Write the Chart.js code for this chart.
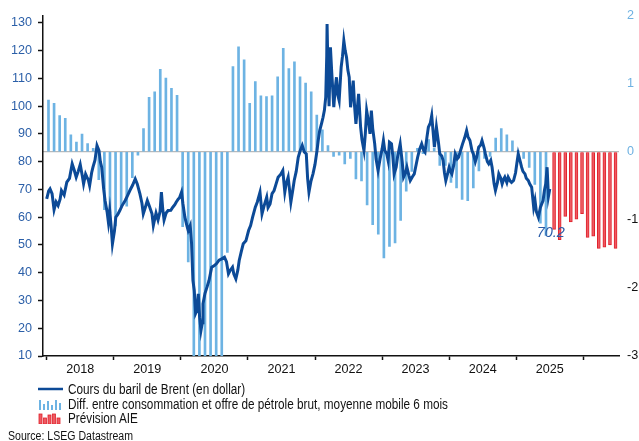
<!DOCTYPE html>
<html lang="fr">
<head>
<meta charset="utf-8">
<title>Brent et équilibre du marché pétrolier</title>
<script src="https://cdn.jsdelivr.net/npm/chart.js@4.4.1/dist/chart.umd.min.js"></script>
<style>
  html, body { margin: 0; padding: 0; background: #fff; }
  body { width: 639px; height: 441px; overflow: hidden; font-family: "Liberation Sans", Arial, sans-serif; color: #111; }
  .wrap { position: relative; width: 639px; height: 441px; }
  #chart { position: absolute; left: 0; top: 0; }
  .row { position: absolute; left: 38px; height: 16px; line-height: 16px; display: flex; align-items: center; white-space: nowrap; }
  .row svg { width: 25px; height: 12px; margin-right: 5px; flex: none; }
  .row span { font-size: 14px; display: inline-block; transform: scaleX(0.84); transform-origin: left center; }
  .source { position: absolute; left: 8px; top: 428px; font-size: 12.5px; line-height: 16px; transform: scaleX(0.845); transform-origin: left center; white-space: nowrap; }
</style>
</head>
<body>
<div class="wrap">
  <canvas id="chart" width="639" height="441"></canvas>
  <div class="row" style="top:381px">
    <svg viewBox="0 0 25 12"><line x1="0" y1="6" x2="25" y2="6" stroke="#0c4a97" stroke-width="2.5"/></svg>
    <span>Cours du baril de Brent (en dollar)</span>
  </div>
  <div class="row" style="top:396px">
    <svg viewBox="0 0 25 12">
      <rect x="1" y="2" width="2" height="10" fill="#6db3e3"/><rect x="5" y="6" width="2" height="6" fill="#6db3e3"/>
      <rect x="9" y="3" width="2" height="9" fill="#6db3e3"/><rect x="13" y="7" width="2" height="5" fill="#6db3e3"/>
      <rect x="17" y="2" width="2" height="10" fill="#6db3e3"/><rect x="21" y="5" width="2" height="7" fill="#6db3e3"/>
    </svg>
    <span>Diff. entre consommation et offre de pétrole brut, moyenne mobile 6 mois</span>
  </div>
  <div class="row" style="top:410px">
    <svg viewBox="0 0 25 12">
      <rect x="1" y="2" width="3" height="10" fill="#ee5a62" stroke="#e0212b" stroke-width="0.8"/><rect x="5.5" y="6" width="3" height="6" fill="#ee5a62" stroke="#e0212b" stroke-width="0.8"/>
      <rect x="10" y="3" width="3" height="9" fill="#ee5a62" stroke="#e0212b" stroke-width="0.8"/><rect x="14.5" y="2" width="3" height="10" fill="#ee5a62" stroke="#e0212b" stroke-width="0.8"/>
      <rect x="19" y="6" width="3" height="6" fill="#ee5a62" stroke="#e0212b" stroke-width="0.8"/>
    </svg>
    <span>Prévision AIE</span>
  </div>
  <div class="source">Source: LSEG Datastream</div>
</div>
<script>
// Brent price (USD): decimal year / price
const brentT = [
  2018.00, 2018.03, 2018.05, 2018.08, 2018.11, 2018.14, 2018.17, 2018.20, 2018.22, 2018.26,
  2018.30, 2018.34, 2018.38, 2018.41, 2018.44, 2018.47, 2018.50, 2018.53, 2018.55, 2018.58,
  2018.60, 2018.62, 2018.64, 2018.67, 2018.69, 2018.72, 2018.75, 2018.78, 2018.80, 2018.82,
  2018.85, 2018.87, 2018.90, 2018.92, 2018.94, 2018.96, 2018.98, 2019.01, 2019.03, 2019.06,
  2019.09, 2019.12, 2019.17, 2019.20, 2019.24, 2019.28, 2019.32, 2019.35, 2019.39, 2019.42,
  2019.44, 2019.47, 2019.50, 2019.53, 2019.57, 2019.59, 2019.63, 2019.66, 2019.69, 2019.71,
  2019.73, 2019.75, 2019.78, 2019.81, 2019.85, 2019.88, 2019.91, 2019.93, 2019.96, 2019.98,
  2020.01, 2020.03, 2020.06, 2020.09, 2020.11, 2020.14, 2020.16, 2020.18, 2020.20, 2020.22,
  2020.24, 2020.26, 2020.28, 2020.30, 2020.32, 2020.33, 2020.36, 2020.39, 2020.42, 2020.46,
  2020.50, 2020.53, 2020.57, 2020.61, 2020.65, 2020.68, 2020.71, 2020.74, 2020.77, 2020.79,
  2020.82, 2020.85, 2020.87, 2020.90, 2020.93, 2020.97, 2021.01, 2021.04, 2021.07, 2021.11,
  2021.14, 2021.18, 2021.21, 2021.24, 2021.28, 2021.30, 2021.33, 2021.36, 2021.39, 2021.42,
  2021.45, 2021.49, 2021.52, 2021.55, 2021.57, 2021.60, 2021.62, 2021.64, 2021.67, 2021.69,
  2021.72, 2021.75, 2021.78, 2021.81, 2021.84, 2021.87, 2021.89, 2021.91, 2021.94, 2021.97,
  2022.00, 2022.03, 2022.05, 2022.07, 2022.10, 2022.12, 2022.14, 2022.16, 2022.175, 2022.18,
  2022.195, 2022.21, 2022.23, 2022.25, 2022.28, 2022.30, 2022.32, 2022.34, 2022.36, 2022.39,
  2022.41, 2022.43, 2022.45, 2022.47, 2022.49, 2022.51, 2022.53, 2022.55, 2022.57, 2022.59,
  2022.61, 2022.63, 2022.65, 2022.68, 2022.70, 2022.73, 2022.75, 2022.77, 2022.80, 2022.82,
  2022.84, 2022.86, 2022.89, 2022.91, 2022.94, 2022.97, 2023.00, 2023.02, 2023.04, 2023.07,
  2023.09, 2023.11, 2023.14, 2023.16, 2023.18, 2023.21, 2023.23, 2023.25, 2023.27, 2023.30,
  2023.32, 2023.35, 2023.37, 2023.40, 2023.42, 2023.45, 2023.48, 2023.50, 2023.53, 2023.56,
  2023.59, 2023.62, 2023.64, 2023.67, 2023.69, 2023.72, 2023.74, 2023.76, 2023.78, 2023.81,
  2023.84, 2023.86, 2023.89, 2023.91, 2023.93, 2023.95, 2023.98, 2024.00, 2024.02, 2024.04,
  2024.07, 2024.09, 2024.12, 2024.14, 2024.17, 2024.20, 2024.23, 2024.26, 2024.28, 2024.31,
  2024.34, 2024.36, 2024.39, 2024.41, 2024.44, 2024.47, 2024.49, 2024.52, 2024.54, 2024.57,
  2024.59, 2024.62, 2024.64, 2024.67, 2024.69, 2024.72, 2024.74, 2024.77, 2024.79, 2024.81,
  2024.83, 2024.86, 2024.88, 2024.91, 2024.93, 2024.96, 2024.99, 2025.01, 2025.03, 2025.06,
  2025.08, 2025.10, 2025.13, 2025.15, 2025.18, 2025.20, 2025.23, 2025.26, 2025.28, 2025.30,
  2025.33, 2025.36, 2025.38, 2025.40, 2025.42, 2025.44, 2025.46, 2025.48, 2025.50
];
const brentP = [
  66.6, 69.5, 70.2, 68.5, 62.7, 65.5, 64.2, 66.5, 69.6, 68.0,
  72.6, 74.0, 79.2, 77.0, 74.4, 76.5, 79.0, 75.0, 72.0, 75.5,
  74.4, 73.5, 71.4, 76.0, 78.0, 80.5, 85.8, 84.0, 80.0, 78.0,
  70.0, 66.0, 62.0, 58.2, 62.4, 57.0, 50.4, 55.0, 60.0, 61.0,
  62.4, 64.0, 66.0, 67.5, 69.6, 71.5, 73.8, 72.0, 68.4, 65.0,
  61.2, 63.5, 66.0, 64.0, 61.2, 57.0, 61.5, 59.0, 62.0, 69.0,
  63.0, 59.0, 61.5, 62.4, 62.5, 63.6, 64.5, 65.4, 66.5, 67.0,
  69.0, 65.0, 60.0, 57.0, 55.2, 57.0, 50.4, 37.2, 33.6, 25.3,
  26.4, 32.4, 24.0, 19.2, 22.0, 28.8, 32.6, 34.8, 37.2, 42.0,
  42.6, 43.2, 44.5, 45.0, 45.6, 44.0, 39.6, 41.0, 42.0, 39.5,
  37.8, 41.0, 44.4, 47.5, 50.4, 51.5, 55.2, 57.0, 60.0, 63.6,
  65.5, 69.0, 61.2, 64.0, 67.2, 63.5, 64.8, 68.5, 69.6, 72.0,
  74.4, 75.5, 76.8, 69.0, 72.0, 74.4, 70.0, 65.4, 70.0, 73.2,
  76.5, 81.6, 84.0, 85.8, 83.5, 82.8, 74.0, 69.0, 73.0, 75.6,
  79.0, 84.0, 88.0, 91.2, 94.0, 96.0, 98.5, 103.2, 118.0, 129.6,
  110.4, 100.0, 121.2, 112.0, 99.6, 106.0, 110.4, 104.0, 102.0, 114.0,
  118.0, 123.6, 120.0, 117.6, 113.0, 110.4, 99.6, 104.0, 109.2, 100.0,
  93.6, 99.0, 104.4, 92.4, 88.0, 84.0, 90.0, 98.4, 94.0, 90.0,
  98.4, 92.0, 86.4, 81.0, 76.8, 81.0, 84.5, 87.6, 84.0, 82.8,
  80.4, 87.0, 86.4, 82.0, 75.6, 78.0, 81.6, 84.0, 86.4, 80.0,
  74.4, 76.0, 78.0, 75.0, 73.2, 74.5, 75.6, 78.0, 81.6, 84.5,
  86.4, 84.0, 83.4, 89.0, 92.4, 94.0, 96.6, 91.0, 85.2, 92.4,
  87.0, 82.8, 82.0, 80.4, 76.0, 73.2, 76.0, 78.0, 76.5, 75.6,
  79.0, 82.8, 81.0, 81.6, 84.0, 86.4, 88.5, 91.2, 89.0, 87.6,
  84.0, 82.8, 80.0, 81.6, 85.2, 86.0, 87.6, 85.0, 82.8, 80.0,
  79.2, 80.5, 78.0, 72.0, 69.6, 72.5, 75.6, 74.0, 72.0, 73.5,
  74.4, 72.5, 74.4, 73.0, 72.5, 73.2, 76.0, 79.5, 82.8, 80.0,
  78.0, 76.5, 75.6, 74.0, 73.2, 72.0, 70.8, 63.6, 66.0, 62.0,
  60.0, 63.5, 64.8, 66.0, 69.6, 72.0, 78.0, 67.5, 70.2
];

// Consumption minus supply, 6-month moving average (mb/d), monthly from Jan 2018
const diffStart = [2018, 1];
const diffValues = [
  0.76, 0.71, 0.53, 0.49, 0.25, 0.14, 0.26, 0.12, 0.05, -0.41, -0.85, -0.90,
  -1.09, -0.80, -0.80, -0.38, -0.05, 0.34, 0.80, 0.88, 1.21, 1.08, 0.93, 0.83,
  -1.10, -1.62, -3.3, -3.3, -3.3, -3.3, -3.3, -3.3, -1.48, 1.25, 1.54, 1.35,
  0.71, 1.03, 0.82, 0.81, 0.82, 1.10, 1.52, 1.22, 1.32, 1.10, 1.01, 0.88,
  0.54, 0.32, 0.09, -0.07, -0.05, -0.18, -0.10, -0.40, -0.43, -0.78, -1.07, -1.21,
  -1.56, -1.39, -1.34, -1.01, -0.58, -0.29, 0.05, -0.03, 0.18, 0.05, -0.20, -0.20,
  -0.45, -0.53, -0.70, -0.72, -0.53, -0.28, -0.10, -0.07, 0.20, 0.34, 0.25, 0.16,
  0.02, -0.10, -0.23, -0.48, -1.05, -1.23
];

// IEA forecast, monthly from Jul 2025
const forecastStart = [2025, 7];
const forecastValues = [-1.14, -1.29, -0.95, -1.03, -0.99, -0.91, -1.26, -1.24, -1.42, -1.40, -1.37, -1.42, -1.08];

const yearLabels = [2018, 2019, 2020, 2021, 2022, 2023, 2024, 2025];
const yearTicks = [2018, 2019, 2020, 2021, 2022, 2023, 2024, 2025, 2026];
const leftTicks = [10, 20, 30, 40, 50, 60, 70, 80, 90, 100, 110, 120, 130];
const rightTicks = [-3, -2, -1, 0, 1, 2];
const lastLabel = '70.2';

// mid-month position on the year axis
const monthPos = (start, i) => start[0] + (start[1] - 1 + i + 0.5) / 12;

const lineColor = '#0c4a97';
const barBlue = '#6db3e3';
const tickFont = { family: '"Liberation Sans", Arial, sans-serif', size: 12.6 };

// "70.2" under the end of the Brent line
const endLabel = {
  id: 'endLabel',
  afterDatasetsDraw(chart) {
    const meta = chart.getDatasetMeta(0);
    const pt = meta.data[meta.data.length - 1];
    if (!pt) return;
    const ctx = chart.ctx;
    ctx.save();
    ctx.font = 'italic 14.5px "Liberation Sans", Arial, sans-serif';
    ctx.fillStyle = '#2a5ca8';
    ctx.textAlign = 'center';
    ctx.textBaseline = 'middle';
    ctx.fillText(lastLabel, pt.x + 1, pt.y + 44);
    ctx.restore();
  }
};

new Chart(document.getElementById('chart'), {
  type: 'bar',
  data: {
    datasets: [
      {
        type: 'line',
        label: 'Cours du baril de Brent (en dollar)',
        data: brentT.map((t, i) => ({ x: t, y: brentP[i] })),
        borderColor: lineColor,
        borderWidth: 3,
        pointRadius: 0,
        tension: 0,
        yAxisID: 'y',
        order: 1
      },
      {
        label: 'Diff. entre consommation et offre de pétrole brut, moyenne mobile 6 mois',
        data: diffValues.map((v, i) => ({ x: monthPos(diffStart, i), y: v })),
        backgroundColor: barBlue,
        barThickness: 2,
        yAxisID: 'y2',
        clip: 0,
        order: 2
      },
      {
        label: 'Prévision AIE',
        data: forecastValues.map((v, i) => ({ x: monthPos(forecastStart, i), y: v })),
        backgroundColor: '#ee5a62',
        borderColor: '#e0212b',
        borderWidth: 1,
        barThickness: 3,
        yAxisID: 'y2',
        clip: 0,
        order: 2
      }
    ]
  },
  options: {
    responsive: false,
    animation: false,
    layout: { padding: { top: 15, left: 0, right: 0, bottom: 0 } },
    plugins: { legend: { display: false }, tooltip: { enabled: false } },
    scales: {
      x: {
        type: 'linear',
        offset: false,
        min: 2017.945,
        max: 2026.532,
        afterBuildTicks: s => {
          const t = [];
          yearTicks.forEach(y => { t.push({ value: y }); if (yearLabels.includes(y)) t.push({ value: y + 0.5 }); });
          s.ticks = t;
        },
        afterFit: s => { s.height = 85; },
        ticks: {
          autoSkip: false, maxRotation: 0, padding: 2,
          color: '#111', font: tickFont,
          callback: v => (v % 1 ? String(Math.floor(v)) : '')
        },
        grid: {
          offset: false,
          drawOnChartArea: false, tickLength: 4, tickWidth: 1.5,
          tickColor: c => (c.tick && c.tick.value % 1 === 0 ? '#111' : 'rgba(0,0,0,0)')
        },
        border: { color: '#111', width: 1.5 }
      },
      y: {
        position: 'left',
        min: 10,
        max: 132.62,
        afterBuildTicks: s => { s.ticks = leftTicks.map(v => ({ value: v })); },
        afterFit: s => { s.width = 43; },
        ticks: { color: '#2b5fa8', font: tickFont, padding: 6 },
        grid: { drawOnChartArea: false, tickLength: 5, tickColor: '#111', tickWidth: 1.5 },
        border: { color: '#111', width: 1.5 }
      },
      y2: {
        position: 'right',
        min: -3,
        max: 2,
        afterBuildTicks: s => { s.ticks = rightTicks.map(v => ({ value: v })); },
        afterFit: s => { s.width = 20; },
        ticks: {
          font: tickFont, padding: 8,
          color: c => (c.tick.value >= 0 ? '#6fb2e2' : '#111')
        },
        grid: {
          drawTicks: false,
          color: c => (c.tick && c.tick.value === 0 ? '#b9b9b9' : 'rgba(0,0,0,0)'),
          lineWidth: 1.2
        },
        border: { display: false }
      }
    }
  },
  plugins: [endLabel]
});
</script>
</body>
</html>
